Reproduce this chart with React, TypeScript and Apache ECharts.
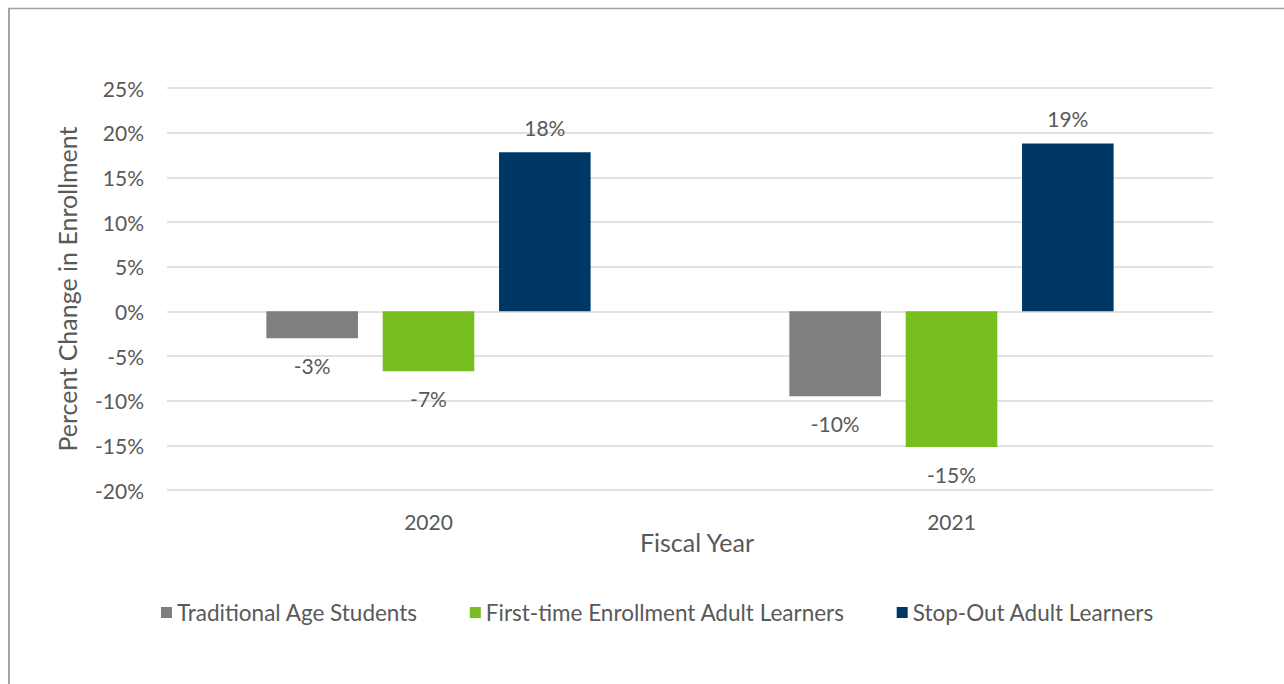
import React, { useEffect, useRef } from "react";
import * as echarts from "echarts";

const categories = ["2020", "2021"];
const seriesNames = [
  "Traditional Age Students",
  "First-time Enrollment Adult Learners",
  "Stop-Out Adult Learners",
];
const traditional = [-3.0, -9.5];
const firstTime = [-6.7, -15.2];
const stopOut = [17.8, 18.8];
const colors = ["#7f7f7f", "#78be20", "#003865"];

const FONT = "Lato";
const TEXT = "#595959";

export default function App() {
  const ref = useRef<HTMLDivElement>(null);
  useEffect(() => {
    if (!ref.current) return;
    const chart = echarts.init(ref.current, undefined, { renderer: "svg" });
    const mk = (name: string, data: number[], color: string) => ({
      name,
      type: "bar",
      barGap: "27%",
      barCategoryGap: "38%",
      itemStyle: { color },
      data: data.map((v) => ({
        value: v,
        label: {
          show: true,
          position: v < 0 ? "bottom" : "top",
          distance: v < 0 ? 17 : 14,
          formatter: (p: any) => Number(p.value).toFixed(0) + "%",
          color: TEXT,
          fontFamily: FONT,
          fontSize: 21,
        },
      })),
    });
    chart.setOption({
      animation: false,
      textStyle: { fontFamily: FONT },
      grid: { left: 167, right: 71, top: 88, bottom: 194, containLabel: false },
      legend: {
        left: 161,
        top: 601,
        padding: 0,
        itemWidth: 11,
        itemHeight: 11,
        itemGap: 52,
        icon: "rect",
        textStyle: { color: TEXT, fontFamily: FONT, fontSize: 22.5 },
        data: seriesNames,
      },
      xAxis: {
        type: "category",
        data: categories,
        name: "Fiscal Year",
        nameLocation: "middle",
        nameGap: 39,
        nameMoveOverlap: false,
        nameTextStyle: { color: TEXT, fontFamily: FONT, fontSize: 25, padding: [0, 0, 0, 14] },
        axisLine: { show: false },
        axisTick: { show: false },
        axisLabel: { color: TEXT, fontFamily: FONT, fontSize: 21, margin: 21 },
      },
      yAxis: {
        type: "value",
        min: -20,
        max: 25,
        interval: 5,
        name: "Percent Change in Enrollment",
        nameLocation: "middle",
        nameGap: 87.5,
        nameMoveOverlap: false,
        nameTextStyle: { color: TEXT, fontFamily: FONT, fontSize: 25 },
        axisLine: { show: false },
        axisTick: { show: false },
        axisLabel: {
          color: TEXT,
          fontFamily: FONT,
          fontSize: 21,
          margin: 23,
          formatter: (v: number) => v + "%",
        },
        splitLine: { lineStyle: { color: "#d9d9d9", width: 1.5 } },
      },
      graphic: [
        {
          type: "line",
          shape: { x1: 9, y1: 8, x2: 9, y2: 684 },
          style: { stroke: "#a5a59f", lineWidth: 2 },
        },
        {
          type: "line",
          shape: { x1: 8, y1: 8.5, x2: 1284, y2: 8.5 },
          style: { stroke: "#a5a59f", lineWidth: 1.5 },
        },
      ],
      series: [
        mk(seriesNames[0], traditional, colors[0]),
        mk(seriesNames[1], firstTime, colors[1]),
        mk(seriesNames[2], stopOut, colors[2]),
      ],
    });
    return () => chart.dispose();
  }, []);
  return (
    <div
      ref={ref}
      style={{ position: "fixed", left: 0, top: 0, width: 1284, height: 684, background: "#fff" }}
    />
  );
}
